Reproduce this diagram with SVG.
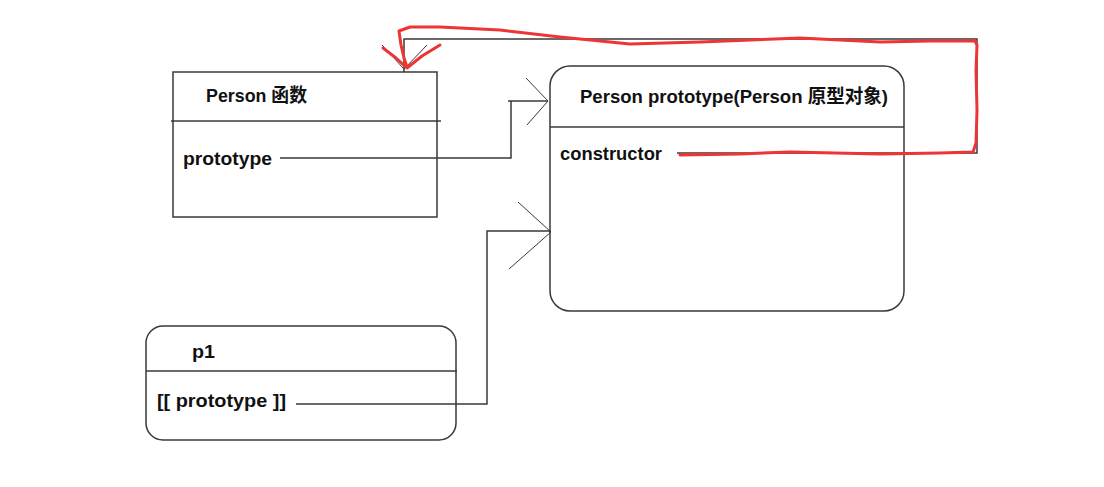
<svg xmlns="http://www.w3.org/2000/svg" width="1104" height="487" viewBox="0 0 1104 487">
<style>
.box{fill:none;stroke:#3a3a3a;stroke-width:1.5}
.ln{fill:none;stroke:#3a3a3a;stroke-width:1.5}
.ah{fill:none;stroke:#3a3a3a;stroke-width:1}
.t{font-family:"Liberation Sans","Noto Sans CJK SC",sans-serif;font-weight:bold;font-size:19px;fill:#111}
.red{fill:none;stroke:#ee3535;stroke-width:3;stroke-linecap:round;stroke-linejoin:round}
</style>
<rect width="1104" height="487" fill="#fff"/>
<g id="person">
<rect class="box" x="173" y="72" width="264" height="145"/>
<line class="box" x1="171" y1="121" x2="441" y2="121"/>
<text class="t" x="206" y="102" textLength="101" lengthAdjust="spacingAndGlyphs">Person 函数</text>
<text class="t" x="183" y="165" textLength="89" lengthAdjust="spacingAndGlyphs">prototype</text>
</g>
<g id="person-prototype">
<rect class="box" x="550" y="66" width="354" height="245" rx="20"/>
<line class="box" x1="550" y1="127" x2="904" y2="127"/>
<text class="t" x="580" y="103" textLength="308" lengthAdjust="spacingAndGlyphs">Person prototype(Person 原型对象)</text>
<text class="t" x="560" y="160" textLength="102" lengthAdjust="spacingAndGlyphs">constructor</text>
</g>
<g id="p1">
<rect class="box" x="146" y="326" width="310" height="114" rx="17"/>
<line class="box" x1="146" y1="371" x2="457" y2="371"/>
<text class="t" x="192" y="358" textLength="23" lengthAdjust="spacingAndGlyphs">p1</text>
<text class="t" x="157" y="407" textLength="129" lengthAdjust="spacingAndGlyphs">[[ prototype ]]</text>
</g>
<g id="connectors">
<polyline class="ln" points="280,158 511,158 511,101"/>
<line class="ln" x1="508" y1="101" x2="548" y2="101"/>
<line class="ah" x1="526" y1="78" x2="548" y2="101"/>
<line class="ah" x1="527" y1="125" x2="548" y2="101"/>
<polyline class="ln" points="296,404 487,404 487,231 551,231"/>
<line class="ah" x1="518" y1="202" x2="551" y2="232"/>
<line class="ah" x1="509" y1="269" x2="551" y2="232"/>
<polyline class="ln" points="677,153 977,153 977,39 404,39 404,72"/>
<line class="ah" x1="382" y1="45" x2="404" y2="69"/>
<line class="ah" x1="427" y1="45" x2="404" y2="69"/>
<path class="red" d="M680,155 L740,154 L790,152 L880,154 L940,153 L973,152 L976,143 L977,110 L976,70 L977,45 L975,41 L930,41 L880,42 L800,38 L700,42 L630,44 L560,37 L500,30 L440,27 L410,27 L399,31 L401,45 L404,58 L407,67"/>
<path class="red" d="M383,48 L396,58 L407,68 L422,56 L440,45"/>
</g>
</svg>
